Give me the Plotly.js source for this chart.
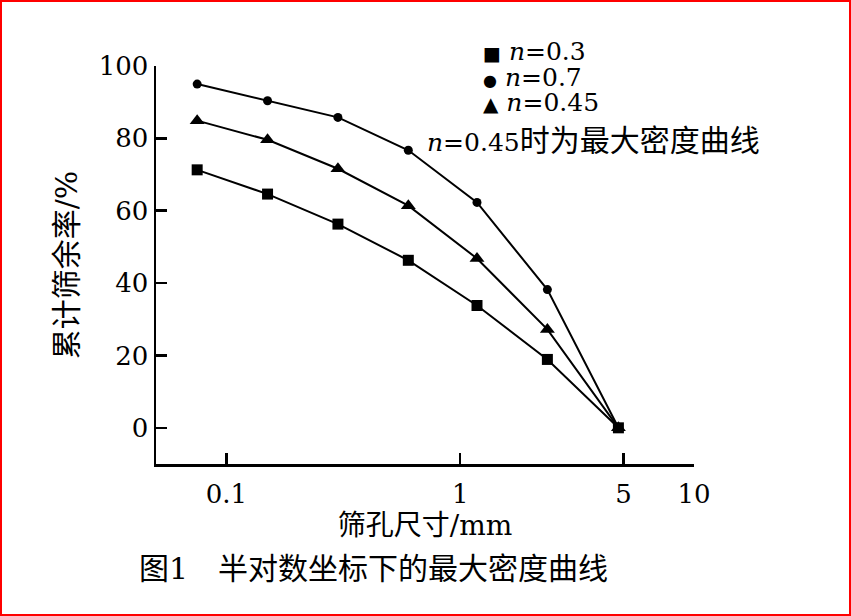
<!DOCTYPE html>
<html>
<head>
<meta charset="utf-8">
<script src="https://cdn.plot.ly/plotly-3.0.1.min.js"></script>
<style>
html,body{margin:0;padding:0;background:#fff;}
#wrap{position:relative;width:851px;height:616px;}
#chart{width:851px;height:616px;}
#frame{position:absolute;left:0;top:0;width:851px;height:616px;box-sizing:border-box;border:2px solid #ff0000;pointer-events:none;}
</style>
</head>
<body>
<div id="wrap"><div id="chart"></div><div id="frame"></div></div>
<script>
// Sieve sizes (mm)
const sieveSizes = [0.075, 0.15, 0.3, 0.6, 1.18, 2.36, 4.75];
// Cumulative retained (%) per exponent n
const retainedN03  = [71.3, 64.6, 56.3, 46.3, 33.8, 18.9, 0];
const retainedN07  = [95.0, 90.4, 85.8, 76.7, 62.3, 38.2, 0];
const retainedN045 = [84.9, 79.6, 71.6, 61.4, 46.8, 27.2, 0];
const xTickVals = [0.1, 1, 5, 10];
const xTickText = ['0.1', '1', '5', '10'];
const yTickVals = [0, 20, 40, 60, 80, 100];
const legendSymbols = ['■', '●', '▲'];
const legendSymbolSizes = [19, 16, 20];
const legendNames = ['<i>n</i>=0.3', '<i>n</i>=0.7', '<i>n</i>=0.45'];
const noteLatin = '<i>n</i>=0.45';
const noteCJK = '时为最大密度曲线';
const captionText = '图1　半对数坐标下的最大密度曲线';
const xTitle = '筛孔尺寸/mm';
const yTitle = '累计筛余率/%';

const FONT = '"DejaVu Serif", "Liberation Serif", "Noto Sans CJK SC", serif';
const CJK = '"DejaVu Serif", "Noto Sans CJK SC", serif';

function series(y, symbol, size) {
  return {
    x: sieveSizes, y: y, type: 'scatter', mode: 'lines+markers',
    line: {color: '#000', width: 2},
    marker: {symbol: symbol, size: size, color: '#000'},
    showlegend: false, hoverinfo: 'x+y'
  };
}

const data = [
  series(retainedN03, 'square', 11),
  series(retainedN07, 'circle', 9),
  series(retainedN045, 'triangle-up', 13)
];

const plotL = 156, plotR = 694, plotT = 66, plotB = 464;
const pw = plotR - plotL, ph = plotB - plotT;
function px(x) { return (x - plotL) / pw; }
function py(y) { return (plotB - y) / ph; }

const legendLines = legendNames.map((t, i) =>
  '<span style="font-size:' + legendSymbolSizes[i] + 'px">' + legendSymbols[i] + '</span>' +
  '<span style="font-size:25px"> ' + t + '</span>');

const annotations = [];
annotations.push({
  text: legendLines.join('<br>'),
  xref: 'paper', yref: 'paper', x: px(481), y: py(77),
  xanchor: 'left', yanchor: 'middle', align: 'left', showarrow: false,
  font: {family: FONT, size: 19.8, color: '#000'}
});
annotations.push({
  text: noteLatin + '<span style="font-size:30px">' + noteCJK + '</span>',
  xref: 'paper', yref: 'paper', x: px(425), y: py(140),
  xanchor: 'left', yanchor: 'middle', showarrow: false,
  font: {family: CJK, size: 25, color: '#000'}
});
annotations.push({
  text: captionText, xref: 'paper', yref: 'paper', x: px(373), y: py(568),
  xanchor: 'center', yanchor: 'middle', showarrow: false,
  font: {family: CJK, size: 30, color: '#000'}
});

const layout = {
  width: 851, height: 616,
  margin: {l: plotL, r: 851 - plotR, t: plotT, b: 616 - plotB},
  paper_bgcolor: '#fff', plot_bgcolor: '#fff',
  showlegend: false,
  font: {family: FONT, color: '#000'},
  xaxis: {
    type: 'log', range: [Math.log10(0.05), 1],
    tickmode: 'array', tickvals: xTickVals, ticktext: xTickText,
    ticks: 'inside', ticklen: 11, tickwidth: 2.5, tickcolor: '#000',
    showline: true, linewidth: 2.5, linecolor: '#000',
    showgrid: false, zeroline: false,
    tickfont: {family: FONT, size: 26, color: '#000'},
    ticklabelstandoff: 5,
    title: {text: xTitle, font: {family: CJK, size: 28, color: '#000'}, standoff: 6}
  },
  yaxis: {
    range: [-10, 100],
    tickmode: 'array', tickvals: yTickVals,
    ticks: 'inside', ticklen: 11, tickwidth: 2.5, tickcolor: '#000',
    showline: true, linewidth: 2.5, linecolor: '#000',
    showgrid: false, zeroline: false,
    tickfont: {family: FONT, size: 26, color: '#000'},
    ticklabelstandoff: 0,
    title: {text: yTitle, font: {family: CJK, size: 30, color: '#000'}, standoff: 12}
  },
  annotations: annotations
};

Plotly.newPlot('chart', data, layout, {staticPlot: true, displayModeBar: false});
</script>
</body>
</html>
